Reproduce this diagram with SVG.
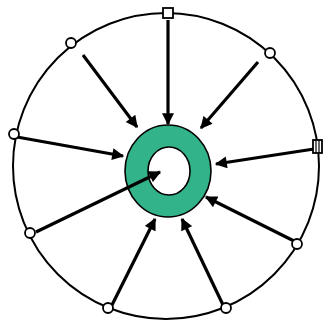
<svg xmlns="http://www.w3.org/2000/svg" width="329" height="329" viewBox="0 0 329 329">
<style>
.rim{fill:none;stroke:#000;stroke-width:2}
.arr{stroke:#000;stroke-width:3.2;fill:none;marker-end:url(#ah)}
.nd{fill:#fff;stroke:#000;stroke-width:1.8}
.ring{fill:#33b38a;stroke:#000;stroke-width:1.6;fill-rule:evenodd}
</style>
<defs>
<marker id="ah" viewBox="0 0 10 10" refX="9" refY="5" markerWidth="13" markerHeight="12" markerUnits="userSpaceOnUse" orient="auto">
<path d="M0,0 L10,5 L0,10 Z" fill="#000"/>
</marker>
</defs>
<rect width="329" height="329" fill="#fff"/>
<g id="rim">
<ellipse class="rim" cx="166" cy="166" rx="153" ry="153"/>
</g>
<g id="hub">
<path class="ring" d="M125,171 a43,46 0 1,0 86,0 a43,46 0 1,0 -86,0 Z M148,171 a21,24 0 1,0 42,0 a21,24 0 1,0 -42,0 Z"/>
</g>
<g id="connectors">
<line class="arr" x1="168" y1="20" x2="168" y2="124"/>
<line class="arr" x1="83" y1="55" x2="137" y2="127"/>
<line class="arr" x1="258" y1="62" x2="201" y2="128"/>
<line class="arr" x1="17" y1="137" x2="123" y2="156"/>
<line class="arr" x1="314" y1="149" x2="216" y2="164"/>
<line class="arr" x1="294" y1="241" x2="206" y2="197"/>
<line class="arr" x1="224" y1="307" x2="182" y2="219"/>
<line class="arr" x1="111" y1="307" x2="155" y2="219"/>
<line class="arr" x1="36" y1="232" x2="160" y2="172"/>
</g>
<g id="n-top"><rect class="nd" x="163" y="8" width="10" height="10"/></g>
<g id="n-topright"><circle class="nd" cx="270" cy="53" r="5"/></g>
<g id="n-right"><rect class="nd" x="313" y="140" width="9" height="13"/><line x1="316" y1="140" x2="316" y2="153" stroke="#000" stroke-width="1.2"/><line x1="319" y1="140" x2="319" y2="153" stroke="#000" stroke-width="1.2"/></g>
<g id="n-bottomright"><circle class="nd" cx="297" cy="244" r="5"/></g>
<g id="n-bottom"><circle class="nd" cx="226" cy="308" r="5"/></g>
<g id="n-bottomleft"><circle class="nd" cx="108" cy="308" r="5"/></g>
<g id="n-leftbottom"><circle class="nd" cx="30" cy="233" r="5"/></g>
<g id="n-left"><circle class="nd" cx="14" cy="134" r="5"/></g>
<g id="n-topleft"><circle class="nd" cx="71" cy="43" r="5"/></g>
</svg>
